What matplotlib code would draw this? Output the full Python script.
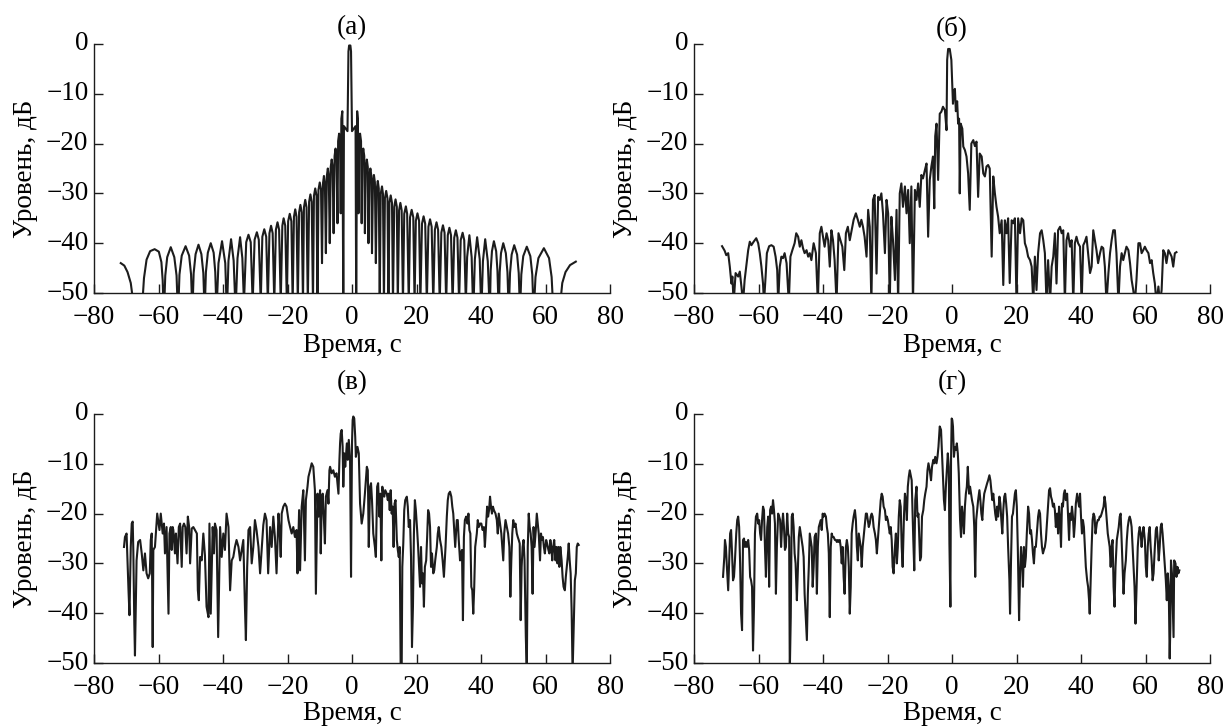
import numpy as np
import matplotlib
matplotlib.use('Agg')
import matplotlib.pyplot as plt

plt.rcParams['font.family'] = ['Liberation Serif', 'DejaVu Serif']
plt.rcParams['font.size'] = 19.5

# (time, level dB) samples, one list per panel
a_pts = [
    (-71.7, -44.0), (-70.6, -44.5), (-69.6, -45.8), (-68.6, -48.0), (-67.8, -52),
    (-65.0, -52), (-64.5, -47.0), (-63.7, -43.3), (-62.6, -41.6), (-61.2, -41.2), (-59.9, -41.7), (-59.1, -43.8), (-58.7, -47.5), (-58.5, -52),
    (-58.2, -52), (-57.9, -46.5), (-57.3, -42.8), (-56.2, -40.8), (-55.1, -42.8), (-54.4, -46.5), (-54.1, -52),
    (-53.8, -52), (-53.5, -46.3), (-52.8, -42.5), (-51.6, -40.6), (-50.5, -42.5), (-49.9, -46.3), (-49.6, -52),
    (-49.4, -52), (-49.1, -46.0), (-48.5, -42.2), (-47.6, -40.3), (-46.7, -42.2), (-46.1, -46.0), (-45.8, -52),
    (-45.6, -52), (-45.3, -45.8), (-44.7, -41.9), (-43.8, -40.0), (-42.9, -41.9), (-42.4, -45.8), (-42.1, -52),
    (-41.9, -52), (-41.4, -44.0), (-40.3, -39.6), (-39.3, -44.0), (-38.9, -52),
    (-38.7, -52), (-38.3, -43.5), (-37.5, -39.2), (-36.7, -43.5), (-36.2, -52),
    (-36.0, -52), (-35.5, -43.0), (-34.7, -38.8), (-34.0, -43.0), (-33.5, -52),
    (-32.8, -39.8), (-32.1, -38.3), (-31.4, -39.8), (-30.8, -52),
    (-30.2, -39.3), (-29.5, -37.8), (-28.9, -39.3), (-28.3, -52),
    (-27.8, -38.7), (-27.2, -37.2), (-26.6, -38.7), (-26.1, -52),
    (-25.6, -38.0), (-25.1, -36.5), (-24.6, -38.0), (-24.1, -52),
    (-23.6, -37.3), (-23.1, -35.8), (-22.6, -37.3), (-22.1, -52),
    (-21.6, -36.5), (-21.2, -35.0), (-20.7, -36.5), (-20.2, -52),
    (-19.8, -35.6), (-19.3, -34.1), (-18.8, -35.6), (-18.4, -52),
    (-18.0, -34.7), (-17.6, -33.2), (-17.2, -34.7), (-16.8, -52),
    (-16.4, -33.8), (-16.0, -32.3), (-15.6, -33.8), (-15.2, -52),
    (-14.9, -32.8), (-14.5, -31.3), (-14.1, -32.8), (-13.7, -52),
    (-13.3, -31.7), (-12.9, -30.2), (-12.5, -31.7), (-12.1, -52),
    (-11.8, -30.5), (-11.4, -29.0), (-11.0, -30.5), (-10.7, -52),
    (-10.4, -29.3), (-10.0, -27.8), (-9.6, -29.3), (-9.3, -44),
    (-9.0, -28.0), (-8.7, -26.5), (-8.4, -28.0), (-8.1, -42),
    (-7.8, -26.5), (-7.5, -25.0), (-7.2, -26.5), (-6.9, -40),
    (-6.6, -24.7), (-6.3, -23.2), (-6.0, -24.7), (-5.7, -38),
    (-5.4, -22.5), (-5.1, -21.0), (-4.8, -22.5), (-4.5, -36),
    (-4.3, -19.5), (-4.0, -18.0), (-3.7, -19.5), (-3.5, -34),
    (-3.3, -15.0), (-3.0, -13.5), (-2.7, -52), (-2.5, -16.5), (-1.4, -17.5),
    (-1.1, -1.5), (-0.9, -0.3), (-0.5, -0.3), (-0.3, -1.5), (0.0, -17.5), (1.1, -16.5), (1.3, -52),
    (1.6, -13.5), (1.8, -15.0), (2.0, -34),
    (2.2, -19.5), (2.5, -18.0), (2.8, -19.5), (3.0, -36),
    (3.2, -22.5), (3.5, -21.0), (3.8, -22.5), (4.0, -38),
    (4.3, -24.7), (4.6, -23.2), (4.9, -24.7), (5.1, -40),
    (5.4, -26.5), (5.7, -25.0), (6.0, -26.5), (6.2, -42),
    (6.5, -27.8), (6.8, -26.3), (7.1, -27.8), (7.4, -44),
    (7.7, -29.0), (8.0, -27.5), (8.3, -29.0), (8.6, -52),
    (8.9, -30.1), (9.3, -28.6), (9.6, -30.1), (9.9, -52),
    (10.2, -31.0), (10.6, -29.5), (11.0, -31.0), (11.3, -52),
    (11.6, -31.9), (12.0, -30.4), (12.4, -31.9), (12.7, -52),
    (13.1, -32.7), (13.5, -31.2), (13.9, -32.7), (14.2, -52),
    (14.6, -33.4), (15.0, -31.9), (15.4, -33.4), (15.8, -52),
    (16.2, -34.1), (16.7, -32.6), (17.1, -34.1), (17.6, -52),
    (18.0, -34.8), (18.5, -33.3), (19.0, -34.8), (19.4, -52),
    (19.8, -35.5), (20.3, -34.0), (20.8, -35.5), (21.2, -52),
    (21.7, -36.1), (22.2, -34.6), (22.7, -36.1), (23.2, -52),
    (23.7, -36.7), (24.2, -35.2), (24.7, -36.7), (25.2, -52),
    (25.7, -37.3), (26.2, -35.8), (26.7, -37.3), (27.2, -52),
    (27.7, -37.9), (28.2, -36.4), (28.7, -37.9), (29.2, -52),
    (29.7, -38.4), (30.2, -36.9), (30.7, -38.4), (31.2, -52),
    (31.7, -38.9), (32.2, -37.4), (32.7, -38.9), (33.2, -52),
    (33.7, -39.4), (34.3, -37.9), (34.8, -39.4), (35.3, -52),
    (35.7, -42.8), (36.4, -38.4), (37.1, -42.8), (37.5, -52),
    (37.7, -52), (38.1, -43.2), (38.8, -38.8), (39.6, -43.2), (40.0, -52),
    (40.2, -52), (40.6, -43.6), (41.3, -39.2), (42.1, -43.6), (42.6, -52),
    (42.8, -52), (43.0, -45.5), (43.4, -41.6), (44.0, -39.6), (44.7, -41.6), (45.1, -45.5), (45.4, -52),
    (45.6, -52), (45.8, -45.8), (46.2, -42.0), (46.9, -40.0), (47.7, -42.0), (48.2, -45.8), (48.5, -52),
    (48.7, -52), (49.0, -46.0), (49.5, -42.3), (50.3, -40.4), (51.2, -42.3), (51.7, -46.0), (52.0, -52),
    (52.2, -52), (52.5, -46.3), (53.1, -42.6), (54.2, -40.7), (55.3, -42.6), (55.9, -46.3), (56.2, -52),
    (56.5, -52), (56.9, -46.8), (57.8, -43.0), (59.5, -41.0), (61.1, -43.0), (61.9, -46.8), (62.3, -52),
    (64.6, -52), (65.2, -48.0), (66.2, -45.8), (67.6, -44.4), (69.4, -43.7),
]

b_pts = [
    (-71.3, -40.6), (-70.5, -41.5), (-70.0, -42.4), (-69.4, -42.0), (-68.9, -44.7), (-68.4, -48.1), (-68.1, -46.7), (-67.7, -52),
    (-67.1, -46.0), (-66.3, -46.7), (-65.8, -45.7), (-65.3, -48.7), (-64.8, -52), (-64.3, -47.4), (-63.8, -44.7), (-63.2, -41.4),
    (-62.7, -39.7), (-62.2, -40.4), (-61.5, -39.7), (-60.7, -39.0), (-60.1, -40.0), (-59.6, -42.0), (-59.1, -44.7), (-58.6, -48.1),
    (-58.3, -52), (-57.8, -46.7), (-57.4, -42.0), (-56.7, -40.6), (-56.0, -40.4), (-55.3, -40.7), (-54.7, -42.7), (-54.2, -45.4),
    (-53.9, -52), (-53.4, -44.7), (-52.9, -42.7), (-52.4, -43.0), (-51.9, -42.0), (-51.3, -44.0), (-50.6, -52), (-50.1, -42.7),
    (-49.5, -41.4), (-48.8, -40.0), (-48.3, -38.0), (-47.7, -38.7), (-47.2, -40.7), (-46.7, -39.4), (-46.2, -41.0), (-45.7, -42.0),
    (-45.1, -41.4), (-44.6, -42.7), (-44.1, -42.0), (-43.6, -43.4), (-42.9, -40.0), (-42.2, -42.0), (-41.6, -52), (-41.0, -38.0),
    (-40.5, -36.7), (-40.0, -38.7), (-39.5, -40.7), (-38.9, -38.0), (-38.4, -39.4), (-37.9, -44.7), (-37.4, -37.4), (-36.9, -39.4),
    (-36.4, -43.4), (-35.8, -52), (-35.2, -38.0), (-34.6, -39.4), (-34.0, -40.7), (-33.4, -45.4), (-32.9, -38.0), (-32.3, -36.7),
    (-31.7, -39.4), (-31.1, -37.4), (-30.5, -35.3), (-29.8, -34.0), (-29.2, -35.3), (-28.6, -36.7),
    (-28.1, -35.3), (-27.6, -36.7), (-27.1, -38.7), (-26.5, -42.7), (-26.0, -33.3), (-25.5, -36.7), (-25.0, -52), (-24.5, -31.3),
    (-24.0, -30.3), (-23.4, -46.1), (-22.9, -30.7), (-22.4, -31.3), (-21.9, -30.0), (-21.4, -34.0), (-20.8, -42.0), (-20.3, -31.3),
    (-19.8, -34.0), (-19.3, -52), (-18.8, -34.7), (-18.3, -39.4), (-17.7, -47.4), (-17.2, -33.3), (-16.7, -52), (-16.2, -30.0),
    (-15.7, -28.0), (-15.2, -32.7), (-14.6, -28.6), (-14.1, -34.0), (-13.6, -29.3), (-13.1, -40.0), (-12.6, -28.6), (-12.1, -52),
    (-11.5, -29.3), (-11.0, -31.3), (-10.5, -28.0), (-10.0, -32.7), (-9.5, -26.3), (-9.0, -27.0), (-8.4, -25.3), (-7.9, -24.0),
    (-7.4, -38.7), (-6.9, -27.3), (-6.4, -24.6), (-5.9, -22.6), (-5.5, -33.0), (-5.2, -18.5), (-4.8, -16.0), (-4.3, -27.3),
    (-3.8, -14.0), (-3.3, -13.6), (-2.8, -12.6), (-2.2, -13.3), (-1.7, -17.3), (-1.5, -3.2), (-1.2, -1.0), (-0.7, -1.0), (-0.2, -3.2),
    (0.3, -12.0), (0.6, -9.5), (0.9, -9.0), (1.2, -13.5), (1.6, -11.5), (1.9, -16.0), (2.2, -15.0), (2.4, -30.0), (2.7, -16.0),
    (3.2, -17.0), (3.5, -20.6), (4.0, -21.3), (4.5, -22.6), (5.0, -26.0), (5.5, -33.3), (6.0, -20.0), (6.6, -19.3), (7.1, -20.5),
    (7.6, -19.6), (8.1, -30.7), (8.6, -22.0), (9.2, -22.6), (9.7, -26.0), (10.2, -26.6), (10.7, -24.6), (11.2, -24.3), (11.7, -25.0),
    (12.3, -42.7), (12.8, -26.6), (13.3, -30.0), (13.8, -32.7), (14.3, -34.7), (14.8, -38.0), (15.4, -35.4), (15.9, -48.4),
    (16.4, -35.4), (16.9, -38.0), (17.4, -35.0), (17.9, -48.0), (18.5, -35.4), (19.0, -36.0), (19.5, -35.0), (20.0, -52),
    (20.5, -35.0), (21.1, -38.0), (21.6, -35.0), (22.1, -35.4), (22.6, -40.0), (23.1, -41.0), (23.6, -42.7), (24.2, -43.4),
    (24.7, -44.7), (25.2, -52), (25.7, -42.7), (26.2, -49.4), (26.7, -42.0), (27.3, -38.0), (27.8, -37.4), (28.3, -39.4),
    (28.8, -42.0), (29.3, -52), (29.8, -43.4), (30.4, -52), (30.9, -44.7), (31.4, -42.7), (31.9, -38.0), (32.4, -48.1),
    (32.9, -37.4), (33.5, -36.7), (34.0, -38.0), (34.5, -37.4), (35.0, -52), (35.5, -39.4), (36.0, -38.0), (36.6, -40.7),
    (37.1, -39.4), (37.6, -52), (38.1, -40.0), (38.6, -38.7), (39.1, -40.0), (39.7, -40.7), (40.2, -52), (40.7, -40.4),
    (41.2, -39.7), (41.7, -38.7), (42.2, -42.0), (42.8, -46.0), (43.3, -44.7), (43.8, -37.4), (44.3, -39.4), (44.8, -41.4),
    (45.3, -44.0), (45.9, -42.0), (46.4, -40.7), (46.9, -41.0), (47.4, -44.7), (47.9, -52), (48.5, -46.0), (49.0, -42.0),
    (49.5, -39.4), (50.0, -37.4), (50.5, -37.4), (51.0, -42.0), (51.6, -52), (52.1, -44.7), (52.6, -42.0), (53.1, -43.4),
    (53.6, -42.0), (54.1, -40.7), (54.7, -41.4), (55.2, -44.0), (55.7, -47.4), (56.2, -49.4), (56.7, -52), (57.2, -47.4),
    (57.8, -40.0), (58.3, -40.0), (58.8, -42.0), (59.3, -41.4), (59.8, -40.7), (60.3, -41.4), (60.9, -42.0), (61.4, -44.0),
    (61.9, -43.4), (62.4, -46.0), (62.9, -48.1), (63.4, -52), (64.0, -48.7), (64.5, -52), (65.0, -49.4), (65.5, -41.4),
    (66.0, -42.0), (66.5, -44.0), (67.1, -41.4), (67.6, -42.0), (68.1, -42.7), (68.6, -44.7), (69.1, -42.0), (69.6, -41.8),
]

c_pts = [
    (-70.7, -26.7), (-70.4, -24.7), (-69.9, -24.0), (-69.3, -35.4), (-69.0, -40.4), (-68.6, -26.7), (-68.3, -22.0), (-68.0, -21.6),
    (-67.8, -27.7), (-67.5, -42.1), (-67.3, -48.5), (-66.8, -29.4), (-66.3, -25.7), (-65.7, -25.3), (-65.2, -28.0), (-64.7, -31.4),
    (-64.2, -28.0), (-63.7, -32.0), (-63.2, -33.0), (-62.7, -32.0), (-62.4, -25.3), (-62.1, -24.0), (-61.8, -46.8), (-61.6, -27.3),
    (-61.1, -26.7), (-60.4, -20.0), (-59.7, -23.3), (-59.3, -20.0), (-58.7, -24.0), (-58.3, -22.0), (-58.0, -28.0), (-57.5, -22.7),
    (-56.9, -40.1), (-56.6, -24.0), (-56.2, -22.7), (-55.9, -27.3), (-55.6, -22.7), (-55.4, -23.3), (-54.9, -28.0), (-54.6, -24.0),
    (-54.1, -30.0), (-53.7, -22.7), (-53.3, -22.0), (-52.8, -30.7), (-52.5, -22.7), (-52.1, -22.0), (-51.7, -22.7), (-51.3, -28.0),
    (-50.9, -20.6), (-50.5, -22.7), (-50.2, -30.0), (-49.7, -23.0), (-49.2, -22.7), (-48.7, -23.3), (-48.1, -24.0), (-47.8, -35.4),
    (-47.5, -37.4), (-47.1, -28.7), (-46.6, -29.4), (-46.1, -24.0), (-45.6, -28.4), (-45.1, -38.7), (-44.5, -40.8), (-44.2, -22.0),
    (-43.8, -40.1), (-43.2, -22.7), (-42.8, -28.0), (-42.5, -22.0), (-42.0, -23.3), (-41.5, -44.8), (-40.9, -22.7), (-40.4, -28.7),
    (-39.9, -24.0), (-39.4, -27.3), (-38.9, -20.0), (-38.3, -22.7), (-37.8, -35.4), (-37.3, -29.4), (-36.8, -28.7), (-36.3, -26.7),
    (-35.8, -25.3), (-35.2, -26.7), (-34.7, -29.4), (-34.2, -27.3), (-33.7, -25.3), (-33.2, -38.7), (-32.9, -45.4), (-32.5, -30.7),
    (-32.1, -23.3), (-31.6, -22.7), (-31.1, -30.0), (-30.6, -26.7), (-30.1, -21.3), (-29.6, -23.3), (-29.0, -26.7), (-28.5, -32.0),
    (-28.0, -27.3), (-27.5, -22.3), (-27.0, -20.0), (-26.5, -21.3), (-26.0, -32.0), (-25.4, -22.7), (-24.9, -26.7), (-24.4, -20.6),
    (-23.9, -24.7), (-23.4, -32.0), (-22.8, -20.0), (-22.5, -22.7), (-22.1, -28.7), (-21.8, -20.0), (-21.3, -18.6), (-20.8, -18.0),
    (-20.3, -18.6), (-19.7, -21.3), (-19.2, -22.7), (-18.7, -24.0), (-18.2, -22.7), (-17.7, -24.7), (-17.2, -23.3), (-16.9, -32.0),
    (-16.4, -19.3), (-16.1, -31.4), (-15.6, -18.6), (-15.1, -15.3), (-14.6, -29.4), (-14.3, -17.3), (-13.8, -14.6), (-13.5, -12.6),
    (-13.0, -11.3), (-12.5, -9.9), (-12.0, -10.6), (-11.5, -15.3), (-11.2, -36.1), (-10.7, -16.0), (-10.4, -20.6), (-9.9, -15.3),
    (-9.7, -28.0), (-9.4, -18.6), (-9.1, -16.0), (-8.7, -21.3), (-8.4, -26.0), (-8.1, -16.6), (-7.6, -15.3), (-7.3, -18.0),
    (-7.0, -11.3), (-6.8, -10.6), (-6.3, -11.9), (-5.8, -11.3), (-5.3, -12.6), (-4.8, -11.9), (-4.2, -16.0), (-3.9, -9.2),
    (-3.7, -5.9), (-3.5, -3.9), (-3.2, -3.2), (-2.9, -6.6), (-2.7, -14.6), (-2.4, -7.9), (-2.1, -10.6), (-1.6, -5.9),
    (-1.3, -9.2), (-1.0, -5.2), (-0.6, -9.2), (-0.3, -32.7), (0.0, -5.9), (0.2, -1.2), (0.4, -0.5), (0.7, -0.9), (1.0, -4.6),
    (1.2, -8.6), (1.7, -6.6), (2.1, -7.9), (2.5, -18.0), (3.0, -22.0), (3.5, -20.0), (4.0, -16.0), (4.6, -10.6), (4.9, -11.3),
    (5.2, -26.7), (5.6, -14.6), (5.9, -13.9), (6.2, -17.3), (6.6, -24.0), (7.1, -26.7), (7.4, -28.7), (7.8, -14.6), (8.1, -13.9),
    (8.5, -20.6), (8.8, -16.0), (9.1, -29.4), (9.4, -14.6), (9.7, -16.0), (10.0, -16.6), (10.3, -15.3), (10.8, -16.0), (11.1, -17.3),
    (11.4, -16.0), (11.7, -19.3), (12.0, -15.3), (12.3, -20.0), (12.6, -18.6), (12.9, -26.7), (13.2, -18.0), (13.5, -17.3),
    (13.9, -25.3), (14.2, -27.3), (14.5, -28.7), (14.8, -26.7), (15.1, -52), (15.4, -52), (15.6, -30.7), (15.9, -26.0),
    (16.2, -19.3), (16.5, -17.3), (17.0, -16.6), (17.3, -18.6), (17.6, -22.7), (18.0, -21.3), (18.3, -28.7), (18.6, -46.8),
    (18.9, -38.7), (19.2, -24.0), (19.5, -17.3), (19.8, -19.3), (20.2, -23.3), (20.5, -26.7), (20.8, -30.7), (21.1, -34.7),
    (21.4, -26.7), (21.7, -34.0), (22.0, -32.0), (22.3, -38.7), (22.6, -30.7), (23.0, -29.4), (23.3, -24.7), (23.6, -19.3),
    (23.9, -20.0), (24.2, -22.7), (24.5, -30.7), (24.8, -28.0), (25.2, -32.0), (25.5, -31.4), (25.8, -29.4), (26.3, -26.7),
    (26.6, -24.0), (26.9, -22.7), (27.3, -25.3), (27.7, -26.7), (28.1, -29.4), (28.5, -32.7), (29.0, -26.7), (29.4, -20.6),
    (29.7, -17.3), (30.0, -16.0), (30.4, -15.6), (30.8, -16.6), (31.1, -18.6), (31.4, -20.0), (31.7, -23.3), (32.0, -26.7),
    (32.5, -21.3), (32.8, -21.3), (33.1, -25.3), (33.5, -29.4), (33.8, -28.0), (34.1, -27.3), (34.4, -41.4), (34.7, -24.7),
    (35.0, -21.3), (35.4, -20.6), (35.8, -22.0), (36.1, -20.0), (36.4, -23.3), (36.7, -24.0), (37.0, -34.7), (37.3, -35.4),
    (37.6, -40.1), (37.9, -34.7), (38.2, -26.7), (38.7, -24.0), (39.0, -21.3), (39.3, -22.7), (39.7, -22.0), (40.1, -22.0),
    (40.5, -23.3), (40.9, -22.7), (41.2, -26.7), (41.6, -22.0), (41.9, -18.6), (42.2, -20.6), (42.5, -19.3), (42.8, -16.6),
    (43.1, -18.6), (43.4, -20.0), (43.7, -18.6), (44.0, -19.3), (44.5, -20.0), (44.9, -21.3), (45.2, -24.0), (45.5, -20.0),
    (45.9, -22.0), (46.3, -24.0), (46.6, -26.7), (46.9, -29.4), (47.2, -24.0), (47.6, -21.3), (48.0, -22.7), (48.4, -24.0),
    (48.8, -26.7), (49.1, -36.7), (49.4, -29.4), (49.7, -24.0), (50.0, -21.3), (50.3, -22.7), (50.7, -22.0), (51.1, -24.0),
    (51.4, -24.7), (51.7, -25.3), (52.0, -26.0), (52.3, -41.4), (52.6, -30.7), (52.9, -26.7), (53.2, -25.3), (53.5, -29.4),
    (53.9, -44.8), (54.2, -52), (54.5, -26.7), (54.8, -20.0), (55.1, -22.7), (55.4, -24.0), (55.7, -26.7), (56.0, -36.1),
    (56.3, -22.7), (56.6, -26.7), (57.0, -23.3), (57.3, -20.0), (57.6, -22.0), (57.9, -24.0), (58.3, -29.4), (58.6, -24.0),
    (58.9, -25.3), (59.2, -24.7), (59.5, -26.7), (59.8, -28.0), (60.2, -25.3), (60.5, -26.0), (60.9, -27.3), (61.2, -28.0),
    (61.5, -25.3), (61.8, -26.7), (62.1, -29.4), (62.4, -26.7), (62.7, -25.3), (63.1, -29.4), (63.4, -26.7), (63.7, -30.0),
    (64.0, -26.7), (64.3, -30.7), (64.6, -26.7), (65.0, -29.4), (65.3, -32.7), (65.6, -34.7), (66.0, -35.4), (66.3, -32.7),
    (66.6, -30.7), (66.9, -28.7), (67.2, -26.0), (67.5, -29.4), (67.8, -32.0), (68.1, -39.4), (68.4, -52), (68.7, -44.1),
    (69.1, -33.4), (69.4, -32.0), (69.7, -26.7), (70.0, -26.0), (70.3, -26.3),
]

d_pts = [
    (-71.0, -32.7), (-70.6, -28.7), (-70.4, -25.3), (-70.1, -26.7), (-69.8, -30.7), (-69.4, -35.4), (-69.1, -29.4), (-68.8, -24.0),
    (-68.5, -23.3), (-68.2, -28.0), (-67.9, -33.4), (-67.6, -32.7), (-67.3, -29.4), (-66.9, -24.0), (-66.6, -21.3), (-66.3, -20.6),
    (-66.0, -22.7), (-65.7, -30.0), (-65.4, -40.1), (-65.1, -43.4), (-64.8, -25.3), (-64.5, -25.0), (-64.2, -26.7), (-63.9, -25.7),
    (-63.6, -26.7), (-63.2, -25.3), (-62.9, -27.3), (-62.6, -32.7), (-62.3, -33.4), (-62.0, -34.7), (-61.7, -47.5), (-61.4, -38.7),
    (-61.1, -24.0), (-60.8, -20.6), (-60.4, -20.0), (-60.1, -22.0), (-59.8, -21.3), (-59.5, -24.0), (-59.2, -25.3), (-58.9, -21.3),
    (-58.6, -18.6), (-58.3, -19.3), (-58.0, -26.7), (-57.7, -32.7), (-57.3, -22.7), (-57.0, -20.6), (-56.7, -34.7), (-56.4, -19.3),
    (-56.1, -18.6), (-55.8, -20.0), (-55.5, -17.3), (-55.2, -19.3), (-54.9, -22.0), (-54.6, -36.1), (-54.3, -26.7), (-53.9, -20.0),
    (-53.6, -20.6), (-53.3, -21.3), (-53.0, -26.7), (-52.7, -22.7), (-52.4, -20.0), (-52.1, -22.7), (-51.8, -27.3), (-51.5, -26.7),
    (-51.1, -20.0), (-50.8, -24.0), (-50.5, -24.7), (-50.3, -52), (-50.0, -40.8), (-49.7, -20.6), (-49.4, -20.0), (-49.1, -22.7),
    (-48.8, -28.0), (-48.5, -30.0), (-48.1, -37.4), (-47.8, -31.4), (-47.5, -24.7), (-47.2, -22.7), (-46.9, -24.0), (-46.6, -25.3),
    (-46.3, -26.7), (-46.0, -28.7), (-45.7, -36.1), (-45.3, -41.4), (-45.0, -45.4), (-44.7, -36.1), (-44.4, -30.7), (-44.1, -24.0),
    (-43.8, -25.3), (-43.5, -26.7), (-43.2, -34.7), (-42.9, -30.7), (-42.6, -24.7), (-42.2, -24.0), (-41.9, -36.1), (-41.6, -26.7),
    (-41.3, -22.7), (-41.0, -22.0), (-40.7, -21.3), (-40.4, -23.3), (-40.1, -20.0), (-39.8, -20.6), (-39.5, -20.0), (-39.1, -20.6),
    (-38.8, -22.7), (-38.5, -24.0), (-38.2, -28.0), (-37.9, -40.8), (-37.6, -26.7), (-37.3, -24.0), (-37.0, -24.7), (-36.7, -24.7),
    (-36.3, -25.3), (-36.0, -25.3), (-35.7, -25.7), (-35.4, -25.3), (-35.1, -25.7), (-34.8, -25.3), (-34.5, -26.7), (-34.2, -30.0),
    (-33.9, -26.7), (-33.6, -32.7), (-33.3, -36.1), (-32.9, -26.7), (-32.6, -25.3), (-32.3, -26.7), (-32.0, -30.7), (-31.7, -40.1),
    (-31.4, -34.7), (-31.1, -24.0), (-30.8, -22.0), (-30.5, -20.6), (-30.1, -19.3), (-29.8, -21.3), (-29.5, -26.7), (-29.2, -29.4),
    (-28.9, -24.0), (-28.6, -25.3), (-28.3, -26.7), (-28.0, -30.7), (-27.7, -26.7), (-27.4, -24.7), (-27.1, -22.7), (-26.7, -20.0),
    (-26.4, -20.0), (-26.1, -21.3), (-25.8, -22.7), (-25.5, -22.0), (-25.2, -20.6), (-24.9, -20.0), (-24.6, -20.6), (-24.3, -22.7),
    (-23.9, -24.0), (-23.6, -25.3), (-23.3, -28.0), (-23.0, -25.3), (-22.7, -22.7), (-22.4, -20.0), (-22.1, -17.3), (-21.8, -16.0),
    (-21.5, -16.6), (-21.2, -18.6), (-20.8, -19.3), (-20.5, -21.3), (-20.2, -20.6), (-19.9, -21.3), (-19.6, -22.7), (-19.3, -24.0),
    (-19.0, -22.7), (-18.7, -25.3), (-18.4, -30.7), (-18.1, -32.0), (-17.7, -26.7), (-17.4, -24.0), (-17.1, -30.0), (-16.8, -26.7),
    (-16.5, -20.6), (-16.2, -17.3), (-15.9, -18.6), (-15.6, -26.7), (-15.3, -30.7), (-14.9, -20.6), (-14.6, -16.0), (-14.3, -17.3),
    (-14.0, -21.3), (-13.7, -14.6), (-13.4, -12.6), (-13.1, -11.3), (-12.5, -13.3), (-12.0, -25.3), (-11.7, -31.4), (-11.4, -17.3),
    (-11.0, -14.6), (-10.7, -20.6), (-10.4, -20.0), (-9.9, -29.4), (-9.6, -28.7), (-9.3, -20.6), (-8.9, -19.3), (-8.6, -17.3),
    (-8.3, -16.0), (-7.9, -14.6), (-7.6, -11.3), (-7.3, -9.9), (-6.9, -11.3), (-6.5, -13.3), (-6.2, -10.6), (-5.8, -9.2),
    (-5.5, -9.9), (-5.2, -8.6), (-4.8, -9.9), (-4.5, -8.6), (-4.2, -6.6), (-3.8, -2.5), (-3.4, -3.2), (-3.1, -7.9), (-2.8, -12.6),
    (-2.5, -17.3), (-2.2, -19.3), (-1.9, -14.6), (-1.6, -11.3), (-1.3, -7.9), (-1.0, -10.6), (-0.8, -26.0), (-0.5, -38.7),
    (-0.3, -9.2), (-0.1, -0.9), (0.1, -1.2), (0.3, -2.5), (0.6, -8.6), (0.9, -6.6), (1.2, -7.2), (1.5, -5.9), (1.8, -7.9),
    (2.1, -11.9), (2.5, -21.3), (2.8, -24.7), (3.1, -18.6), (3.4, -20.6), (3.7, -24.0), (4.0, -18.6), (4.3, -16.0), (4.6, -14.6),
    (4.9, -10.6), (5.3, -16.0), (5.6, -14.6), (5.9, -16.0), (6.2, -17.3), (6.6, -18.6), (6.9, -22.7), (7.2, -32.7), (7.5, -21.3),
    (7.8, -19.3), (8.1, -17.3), (8.5, -15.3), (8.8, -17.3), (9.1, -20.0), (9.4, -21.3), (9.7, -18.0), (10.0, -16.0), (10.3, -15.3),
    (10.6, -14.6), (10.9, -13.9), (11.2, -13.3), (11.6, -12.3), (11.9, -13.3), (12.2, -15.3), (12.5, -17.3), (12.8, -16.0),
    (13.1, -18.0), (13.4, -20.0), (13.7, -21.3), (14.0, -18.6), (14.3, -20.6), (14.7, -16.6), (15.0, -18.0), (15.3, -21.3),
    (15.6, -24.0), (15.9, -19.3), (16.2, -16.6), (16.5, -16.0), (16.8, -18.0), (17.1, -20.6), (17.4, -26.7), (17.8, -33.4),
    (18.0, -40.1), (18.3, -29.4), (18.6, -20.6), (18.9, -20.0), (19.2, -18.0), (19.5, -16.0), (19.8, -15.3), (20.1, -18.6),
    (20.4, -26.7), (20.8, -41.4), (21.1, -32.0), (21.4, -26.7), (21.7, -29.4), (22.0, -34.7), (22.3, -26.7), (22.6, -30.7),
    (22.9, -28.7), (23.2, -24.0), (23.6, -18.6), (23.9, -20.0), (24.2, -24.0), (24.5, -23.3), (24.8, -25.3), (25.1, -28.0),
    (25.4, -30.0), (25.7, -26.7), (26.0, -26.7), (26.3, -24.0), (26.7, -20.6), (27.0, -19.3), (27.3, -20.0), (27.6, -24.0),
    (27.9, -26.7), (28.2, -28.0), (28.5, -27.3), (28.8, -26.7), (29.1, -25.3), (29.5, -21.3), (29.8, -18.6), (30.1, -15.3),
    (30.4, -14.9), (30.7, -16.6), (31.0, -17.3), (31.3, -18.6), (31.6, -18.0), (31.9, -19.3), (32.2, -22.7), (32.6, -20.0),
    (32.9, -24.0), (33.2, -18.6), (33.5, -21.3), (33.8, -26.7), (34.1, -18.0), (34.4, -18.6), (34.7, -16.0), (35.0, -15.3),
    (35.3, -17.3), (35.7, -16.0), (36.0, -20.6), (36.3, -25.3), (36.6, -20.0), (36.9, -21.3), (37.2, -18.6), (37.5, -20.6),
    (37.8, -24.7), (38.1, -22.0), (38.4, -18.0), (38.8, -16.0), (39.1, -17.3), (39.4, -18.6), (39.7, -16.0), (40.0, -20.6),
    (40.3, -24.0), (40.6, -21.3), (40.9, -22.7), (41.2, -26.7), (41.5, -30.7), (41.9, -33.4), (42.2, -34.7), (42.5, -37.4),
    (42.7, -40.1), (43.0, -33.4), (43.3, -26.7), (43.6, -21.3), (43.9, -20.0), (44.2, -20.6), (44.5, -24.0), (44.9, -22.0),
    (45.2, -21.3), (45.5, -21.3), (45.8, -20.6), (46.1, -20.6), (46.4, -20.0), (46.7, -19.3), (47.0, -18.6), (47.3, -16.6),
    (47.6, -18.0), (48.0, -21.3), (48.3, -24.0), (48.6, -25.3), (48.9, -26.7), (49.2, -30.7), (49.5, -26.7), (49.8, -25.3),
    (50.1, -34.7), (50.4, -38.7), (50.7, -30.7), (51.1, -25.3), (51.4, -24.0), (51.7, -22.7), (52.0, -20.6), (52.3, -20.0),
    (52.6, -25.3), (52.9, -30.7), (53.2, -36.1), (53.5, -32.0), (53.9, -29.4), (54.2, -25.3), (54.5, -22.7), (54.8, -21.3),
    (55.1, -20.6), (55.4, -21.3), (55.7, -22.7), (56.0, -26.7), (56.3, -30.7), (56.6, -34.7), (56.9, -42.1), (57.3, -33.4),
    (57.6, -26.7), (57.9, -24.0), (58.2, -22.7), (58.5, -24.0), (58.8, -26.7), (59.1, -24.0), (59.4, -22.7), (59.8, -25.3),
    (60.1, -30.7), (60.4, -32.7), (60.7, -26.7), (61.0, -24.0), (61.3, -22.7), (61.6, -26.7), (61.9, -29.4), (62.2, -33.4),
    (62.5, -32.0), (62.9, -26.7), (63.2, -23.3), (63.5, -22.7), (63.8, -25.3), (64.1, -29.4), (64.4, -26.7), (64.7, -22.7),
    (65.0, -22.0), (65.3, -24.0), (65.6, -26.7), (66.0, -30.7), (66.3, -33.4), (66.6, -37.4), (66.9, -32.0), (67.2, -34.7),
    (67.5, -49.1), (67.7, -42.8), (67.9, -29.4), (68.2, -32.0), (68.5, -40.1), (68.7, -44.8), (68.9, -29.4), (69.3, -30.0),
    (69.6, -32.7), (69.9, -30.7), (70.2, -32.0), (70.5, -31.4),
]

titles = ['(а)', '(б)', '(в)', '(г)']
x_ticks = [-80, -60, -40, -20, 0, 20, 40, 60, 80]
y_ticks = [0, -10, -20, -30, -40, -50]
x_label = 'Время, с'
y_label = 'Уровень, дБ'

fig = plt.figure(figsize=(12.23, 7.28), dpi=100)

W, H = 1223, 728
boxes = [(94, 44), (694, 44), (94, 414), (694, 414)]   # left, top in px
ax_w, ax_h = 516, 249

for i, pts in enumerate([a_pts, b_pts, c_pts, d_pts]):
    left, top = boxes[i]
    ax = fig.add_axes([left / W, 1 - (top + ax_h) / H, ax_w / W, ax_h / H])
    t, lvl = np.array(pts).T
    ax.plot(t, lvl, color='#1c1c1c', lw=1.5)
    ax.set_xlim(-80, 80)
    ax.set_ylim(-50, 0)
    ax.set_xticks(x_ticks)
    ax.set_yticks(y_ticks)
    for side in ['top', 'right']:
        ax.spines[side].set_visible(False)
    for side in ['left', 'bottom']:
        ax.spines[side].set_linewidth(1.0)
        ax.spines[side].set_color('#1c1c1c')
    ax.tick_params(direction='in', length=6.5, width=1.0, color='#1c1c1c', labelsize=19.5)
    ax.tick_params(axis='x', pad=9)
    ax.tick_params(axis='y', pad=4)
    for lbl in ax.get_yticklabels():
        lbl.set_verticalalignment('center')

    cx = (left + ax_w / 2) / W
    title_y = 28 if top < 100 else 383
    fig.text(cx, 1 - title_y / H, titles[i], ha='center', va='center', fontsize=19.5)
    xl_y = 346 if top < 100 else 714
    fig.text(cx, 1 - xl_y / H, x_label, ha='center', va='center', fontsize=19.5)
    yl_x = 26 if left < 300 else 625
    fig.text(yl_x / W, 1 - (top + ax_h / 2) / H, y_label, ha='center', va='center',
             rotation=90, fontsize=19.5)

fig.savefig('out.png', dpi=100)
